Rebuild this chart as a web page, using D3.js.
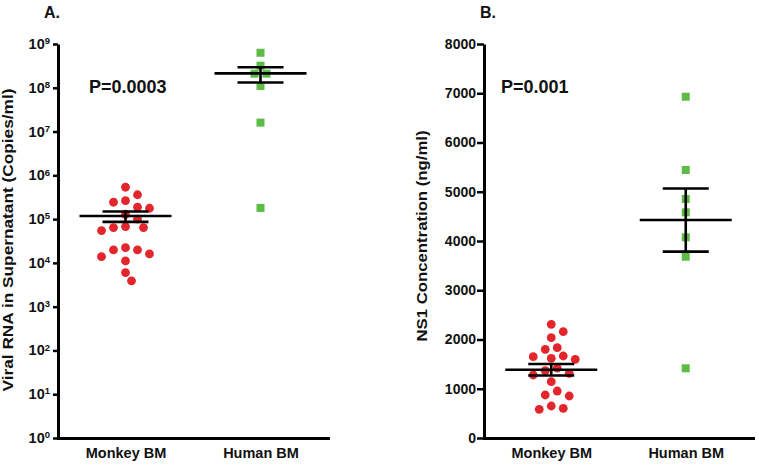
<!DOCTYPE html>
<html><head><meta charset="utf-8">
<script src="https://cdn.jsdelivr.net/npm/d3@7"></script>
<style>
body{margin:0;background:#fff}
svg{display:block}
text{font-family:"Liberation Sans",Arial,Helvetica,sans-serif;font-weight:bold;fill:#111}
</style>
</head><body>
<svg id="c" width="759" height="466"></svg>
<script>
// ---------------- data ----------------
const categories = ["Monkey BM", "Human BM"];
// Panel A: viral RNA in supernatant (copies/ml)
const viralMonkey = [5.35e5, 3.6e5, 2.64e5, 2.43e5, 1.87e5, 1.77e5, 1.29e5, 9.96e4, 6.75e4, 6.4e4,
                     6.4e4, 5.46e4, 2.23e4, 1.98e4, 1.98e4, 1.6e4, 1.39e4, 1.11e4, 6.0e3, 3.9e3];
const viralHuman = [6.3e8, 3.2e8, 2.1e8, 2.1e8, 1.1e8, 1.6e7, 1.8e5];
// Panel B: NS1 concentration (ng/ml)
const ns1Monkey = [2309, 2158, 2037, 1801, 1834, 1618, 1651, 1665, 1598, 1421,
                   1314, 1367, 1279, 1143, 954, 873, 853, 650, 583, 603];
const ns1Human = [6930, 5442, 4853, 4582, 4075, 3681, 1415];
const logTicks = [1, 10, 100, 1e3, 1e4, 1e5, 1e6, 1e7, 1e8, 1e9];
const linTicks = [0, 1000, 2000, 3000, 4000, 5000, 6000, 7000, 8000];
const panelLabels = ["A.", "B."];
const pLabels = ["P=0.0003", "P=0.001"];
const yTitles = ["Viral RNA in Supernatant (Copies/ml)", "NS1 Concentration (ng/ml)"];

// ---------------- drawing ----------------
const svg = d3.select("#c");
const RED = "#e3262b", GREEN = "#5dbb46";

function swarm(vals, y, cx, minD) {
  const idx = d3.range(vals.length).sort((a, b) => y(vals[a]) - y(vals[b]));
  const cands = [0, 6, -6, 12, -12, 18, -18, 24, -24, 30, -30, 36, -36];
  const placed = [], out = [];
  idx.forEach(i => {
    const py = y(vals[i]);
    for (const c of cands) {
      if (placed.every(p => Math.hypot(p[0] - c, p[1] - py) >= minD)) {
        placed.push([c, py]);
        out.push({x: cx + c, y: py});
        break;
      }
    }
  });
  return out;
}

function panel(cfg) {
  const g = svg.append("g");
  const x = d3.scalePoint(categories, [cfg.left, cfg.right]).padding(0.5);
  const y = cfg.y;

  // y axis
  const ya = g.append("g").attr("transform", `translate(${cfg.left},0)`)
    .call(d3.axisLeft(y).tickValues(cfg.ticks).tickSize(cfg.tickLen).tickPadding(cfg.tickPad).tickSizeOuter(0)
      .tickFormat(d => d));
  ya.attr("font-size", 14).attr("font-family", null);
  ya.select(".domain").attr("stroke", "#000").attr("stroke-width", 3);
  ya.selectAll(".tick line").attr("stroke", "#000").attr("stroke-width", 2.5);
  ya.selectAll(".tick text").attr("fill", "#111");
  if (cfg.log) {
    ya.selectAll(".tick text").text(null).each(function(d) {
      const t = d3.select(this);
      t.append("tspan").attr("font-size", "14.5px").text("10");
      t.append("tspan").attr("dy", "-0.5em").attr("font-size", "9.5px").text(Math.round(Math.log10(d)));
    });
  }

  // x axis
  const xa = g.append("g").attr("transform", `translate(0,${cfg.bottom})`)
    .call(d3.axisBottom(x).tickSize(0).tickPadding(10).tickSizeOuter(0));
  xa.attr("font-size", 14.5).attr("font-family", null);
  xa.select(".domain").attr("stroke", "#000").attr("stroke-width", 3).attr("stroke-linecap", "square");
  xa.selectAll(".tick text").attr("fill", "#111");

  // points
  const monk = swarm(cfg.monkey, y, x(categories[0]), 10);
  g.append("g").selectAll("circle").data(monk).join("circle")
    .attr("cx", d => d.x).attr("cy", d => d.y).attr("r", 4.4).attr("fill", RED);
  const hum = swarm(cfg.human, y, x(categories[1]), 10);
  g.append("g").selectAll("rect").data(hum).join("rect")
    .attr("x", d => d.x - 4).attr("y", d => d.y - 4).attr("width", 8).attr("height", 8).attr("fill", GREEN);

  // mean +/- SEM
  [[cfg.monkey, categories[0]], [cfg.human, categories[1]]].forEach(([vals, cat]) => {
    const m = d3.mean(vals), sem = d3.deviation(vals) / Math.sqrt(vals.length);
    const cx = x(cat);
    const eb = g.append("g").attr("stroke", "#000").attr("stroke-width", 2.6);
    eb.append("line").attr("x1", cx - 46).attr("x2", cx + 46).attr("y1", y(m)).attr("y2", y(m));
    eb.append("line").attr("x1", cx - 23).attr("x2", cx + 23).attr("y1", y(m + sem)).attr("y2", y(m + sem));
    eb.append("line").attr("x1", cx - 23).attr("x2", cx + 23).attr("y1", y(m - sem)).attr("y2", y(m - sem));
    eb.append("line").attr("x1", cx).attr("x2", cx).attr("y1", y(m + sem)).attr("y2", y(m - sem));
  });

  // texts
  g.append("text").attr("x", cfg.labelX).attr("y", 18).attr("font-size", 16).text(cfg.label);
  g.append("text").attr("x", cfg.pX).attr("y", 93).attr("font-size", cfg.pSize).text(cfg.p);
  g.append("text").attr("transform", `translate(${cfg.titleX},${cfg.titleY}) rotate(-90)`)
    .attr("text-anchor", "middle").attr("font-size", 15)
    .attr("textLength", cfg.titleLen).attr("lengthAdjust", "spacingAndGlyphs").text(cfg.title);
}

panel({
  left: 58, right: 328, bottom: 438,
  y: d3.scaleLog().domain([1, 1e9]).range([438, 44]),
  ticks: logTicks, log: true, tickLen: 5, tickPad: 3,
  monkey: viralMonkey, human: viralHuman,
  label: panelLabels[0], labelX: 44, p: pLabels[0], pX: 89, pSize: 18,
  title: yTitles[0], titleX: 13, titleY: 240, titleLen: 303
});
panel({
  left: 484, right: 753, bottom: 438,
  y: d3.scaleLinear().domain([0, 8000]).range([438, 44]),
  ticks: linTicks, log: false, tickLen: 7, tickPad: 1,
  monkey: ns1Monkey, human: ns1Human,
  label: panelLabels[1], labelX: 480, p: pLabels[1], pX: 501, pSize: 18,
  title: yTitles[1], titleX: 427, titleY: 236, titleLen: 211
});
</script>
</body></html>
